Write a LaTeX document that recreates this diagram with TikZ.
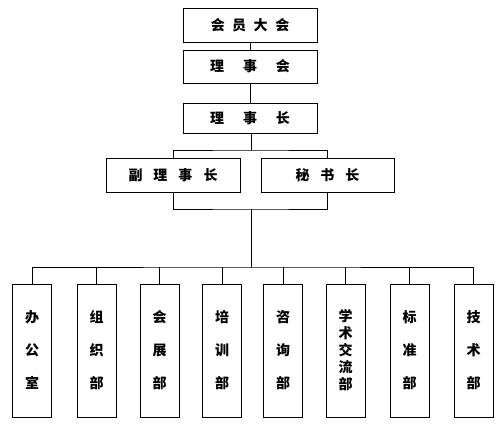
\documentclass[tikz,border=0pt]{standalone}
\usepackage{fontspec}
\usepackage{tikz}
\usetikzlibrary{positioning}
\newfontfamily\cjk{Noto Sans CJK SC}
\tikzstyle{chart} = [x = 1pt, y = -1pt, line width = 0.9pt]
\tikzstyle{boardBox} = [draw, inner sep = 0pt, minimum width = 134pt, font = \cjk\bfseries\fontsize{14}{14}\selectfont]
\tikzstyle{deptBox} = [draw, inner sep = 0pt, minimum width = 39pt, minimum height = 133pt, align = center]
\newcommand{\gap}[1]{\hspace{#1pt}}
\newcommand{\deptFont}[1]{\cjk\bfseries\fontsize{14}{#1}\selectfont}

\begin{document}
\begin{tikzpicture}[chart]
  \useasboundingbox (0,0) rectangle (503,428);
  % top of the chart
  \node [boardBox, minimum height = 34pt] (hy) at (250,25) {会\gap{7.5}员\gap{7.5}大\gap{7.5}会};
  \node [boardBox, minimum height = 33pt] (lsh) at (250,66.5) {理\gap{19}事\gap{19}会};
  \node [boardBox, minimum height = 30pt] (lsz) at (250,118) {理\gap{19}事\gap{19}长};
  \node [boardBox, minimum height = 34pt] (flsz) at (173,175) {副\gap{11}理\gap{11}事\gap{11}长};
  \node [boardBox, minimum height = 34pt, minimum width = 133pt] (msz) at (327.5,175) {秘\gap{11}书\gap{11}长};
  \draw (hy) -- (lsh);
  \draw (lsh) -- (lsz);
  \coordinate (upper) at (251,150);
  \coordinate (lower) at (251,209);
  \coordinate (bar) at (251,267);
  \draw (lsz.south -| upper) -- (upper);
  \draw (flsz.north) |- (upper) -| (msz.north);
  \draw (flsz.south) |- (lower) -| (msz.south);
  \draw (lower) -- (bar);
  % departments
  \foreach \i/\x/\lead/\txt in {1/32/33/{办\\公\\室}, 2/96.5/33/{组\\织\\部}, 3/159.5/33/{会\\展\\部},
      4/222/33/{培\\训\\部}, 5/283/33/{咨\\询\\部}, 6/345.5/17/{学\\术\\交\\流\\部},
      7/409.5/33/{标\\准\\部}, 8/473.5/33/{技\\术\\部}}
    \node [deptBox, font = \deptFont{\lead}] (d\i) at (\x,350.5) {\txt};
  \draw (d1.north) |- (bar) -| (d8.north);
  \foreach \i in {2,...,7}
    \draw (d\i.north) -- (d\i.north |- bar);
\end{tikzpicture}
\end{document}
